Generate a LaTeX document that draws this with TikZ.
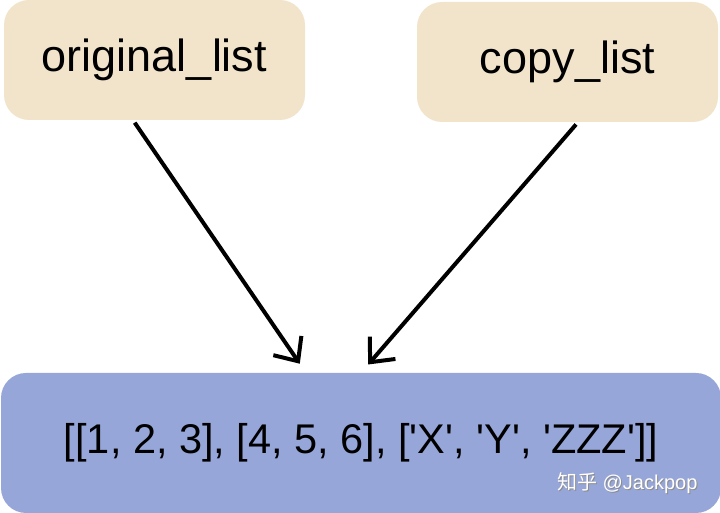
\documentclass[tikz,border=0pt]{standalone}
\usepackage{fontspec}
\setmainfont{Liberation Sans}
\newfontfamily\cjkfont{Noto Sans CJK SC}
\usepackage{xcolor}
\definecolor{nameback}{RGB}{242, 228, 203}
\definecolor{listback}{RGB}{150, 166, 216}
\usetikzlibrary{arrows.meta, positioning}
\newcommand{\q}{\textquotesingle}

\begin{document}
\begin{tikzpicture}[
        x=1pt, y=1pt,
        namebox/.style={rectangle, rounded corners=25pt, minimum width=301pt, minimum height=120pt, text centered, fill=nameback, font=\fontsize{45}{50}\selectfont},
        listbox/.style={rectangle, rounded corners=25pt, minimum width=720pt, minimum height=140pt, text centered, fill=listback, font=\fontsize{41.5}{46}\selectfont},
        arrow/.style={line width=4pt, -{Straight Barb[length=19pt, width=34pt, line width=4pt]}, shorten <=3pt, shorten >=11pt}
    ]
        \useasboundingbox (0,0) rectangle (720,513);

        % Names
        \node[namebox] (orig) at (154.5,453) {original\_list};
        \node[namebox] (copy) at (567.5,451) {copy\_list};

        % Nested list
        \node[listbox] (nested) at (361,70) {[[1, 2, 3], [4, 5, 6], [\q X\q, \q Y\q, \q ZZZ\q]]};

        % References
        \draw[arrow] ([xshift=-21.5pt]orig.south) -- ([xshift=-55pt]nested.north);
        \draw[arrow] ([xshift=10.5pt]copy.south) -- (nested.north);

        % Watermark
        \node[text=black!45, font=\fontsize{20}{22}\selectfont, anchor=east] (markshadow) at (702,29) {{\cjkfont 知乎} @Jackpop};
        \node[text=white, font=\fontsize{20}{22}\selectfont, anchor=east] (mark) at (701,30) {{\cjkfont 知乎} @Jackpop};
\end{tikzpicture}
\end{document}
